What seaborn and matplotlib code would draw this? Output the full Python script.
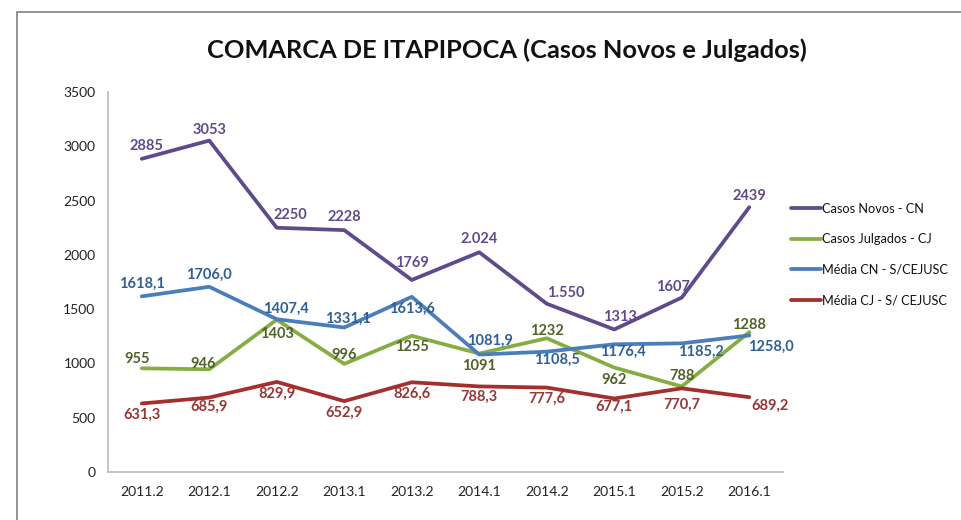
import numpy as np
import pandas as pd
import seaborn as sns
import matplotlib.pyplot as plt
from matplotlib.patches import Rectangle

periodos = ["2011.2", "2012.1", "2012.2", "2013.1", "2013.2",
            "2014.1", "2014.2", "2015.1", "2015.2", "2016.1"]
casos_novos = [2885, 3053, 2250, 2228, 1769, 2024, 1550, 1313, 1607, 2439]
casos_julgados = [955, 946, 1403, 996, 1255, 1091, 1232, 962, 788, 1288]
media_cn = [1618.1, 1706.0, 1407.4, 1331.1, 1613.6, 1081.9, 1108.5, 1176.4, 1185.2, 1258.0]
media_cj = [631.3, 685.9, 829.9, 652.9, 826.6, 788.3, 777.6, 677.1, 770.7, 689.2]

rotulos_cn = ["2885", "3053", "2250", "2228", "1769", "2.024", "1.550", "1313", "1607", "2439"]
series_nomes = ["Casos Novos - CN", "Casos Julgados - CJ",
                "Média CN - S/CEJUSC", "Média CJ - S/ CEJUSC"]

sns.set_theme(style="white")
plt.rcParams['font.family'] = ['Lato', 'DejaVu Sans']

df = pd.DataFrame({
    'periodo': periodos * 4,
    'x': list(range(len(periodos))) * 4,
    'valor': casos_novos + casos_julgados + media_cn + media_cj,
    'serie': sum([[n] * len(periodos) for n in series_nomes], []),
})

cores_linha = ['#5F4B8B', '#86AD44', '#4A7EBB', '#A3302D']
cores_rotulo = ['#5F4B8B', '#4F6228', '#2F5F98', '#953735']

fig = plt.figure(figsize=(9.61, 5.2), dpi=100)
ax = fig.add_axes([0.1124, 0.0923, 0.7024, 0.7307])

sns.lineplot(data=df, x='x', y='valor', hue='serie', hue_order=series_nomes,
             palette=cores_linha, linewidth=2.7, ax=ax, legend=True)

# rotulos (texto e deslocamento em pixels)
rot_todos = [
    rotulos_cn,
    [str(v) for v in casos_julgados],
    [f"{v:.1f}".replace('.', ',') for v in media_cn],
    [f"{v:.1f}".replace('.', ',') for v in media_cj],
]
desloc = [
    [(5, 13), (0, 11), (14, 13), (0, 13), (0, 17), (0, 13), (19, 11), (6, 12), (-9, 11), (0, 11)],
    [(-5, 9), (-6, 5), (0, -14), (0, 9), (0, -11), (0, -12), (0, 7), (0, -12), (0, 10), (0, 7)],
    [(0, 13), (0, 12), (9, 10), (4, 9), (0, -12), (11, 14), (10, -8), (9, -8), (19, -8), (22, -11)],
    [(0, -11), (0, -9), (0, -12), (0, -12), (0, -12), (0, -10), (0, -11), (0, -8), (0, -16), (21, -9)],
]
serie_vals = [casos_novos, casos_julgados, media_cn, media_cj]
for vals, rots, offs, cor in zip(serie_vals, rot_todos, desloc, cores_rotulo):
    for i, (v, r, (dx, dy)) in enumerate(zip(vals, rots, offs)):
        ax.annotate(r, (i, v), xytext=(dx * 0.72, dy * 0.72), textcoords='offset points',
                    ha='center', va='center', fontsize=10.5, fontweight='bold', color=cor)

ax.set_xlim(-0.5, len(periodos) - 0.5)
ax.set_ylim(0, 3500)
ax.set_yticks(np.arange(0, 3501, 500))
ax.set_xticks(range(len(periodos)))
ax.set_xticklabels(periodos)
ax.tick_params(axis='both', labelsize=10, colors='#222222', length=0)
ax.tick_params(axis='y', pad=9)
ax.tick_params(axis='x', pad=10)
ax.set_xlabel("")
ax.set_ylabel("")
for s in ['top', 'right']:
    ax.spines[s].set_visible(False)
for s in ['left', 'bottom']:
    ax.spines[s].set_color('#BBBBBB')
    ax.spines[s].set_linewidth(1.2)

leg = ax.legend(loc='center left', bbox_to_anchor=(0.995, 0.572), frameon=False,
                fontsize=9.2, handlelength=2.3, handletextpad=0.1, labelspacing=1.45)
for t in leg.get_texts():
    t.set_color('#111111')

fig.text(0.528, 0.904, "COMARCA DE ITAPIPOCA (Casos Novos e Julgados)",
         ha='center', va='center', fontsize=18.3, fontweight='bold', color='#111111')

fig.patches.append(Rectangle((0.0177, -0.2), 1.2, 0.2 + 0.977, transform=fig.transFigure,
                             fill=False, edgecolor='#8A8A8A', linewidth=1.3))

fig.savefig('out.png', dpi=100)
